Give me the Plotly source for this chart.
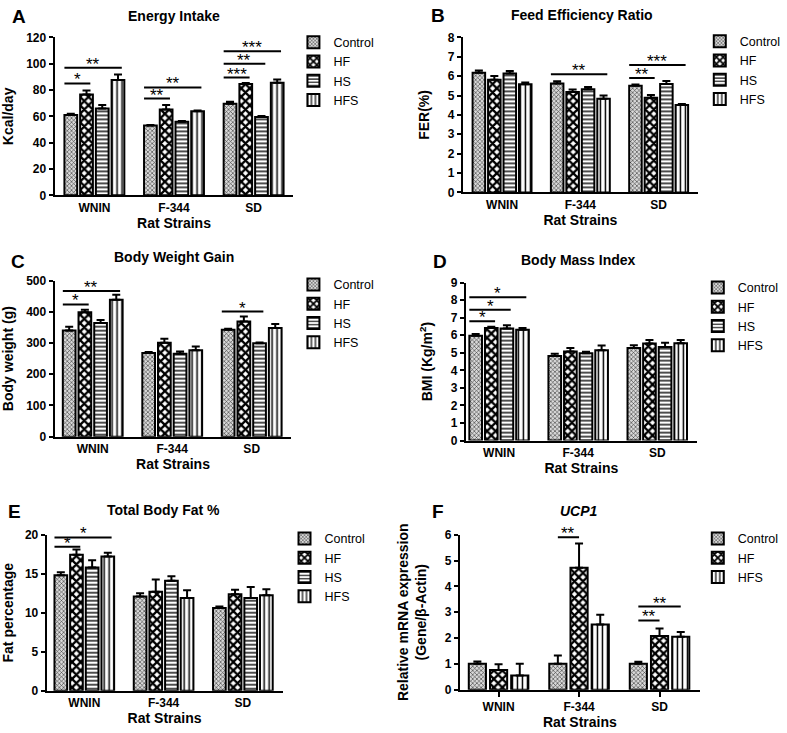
import plotly.graph_objects as go

W, H = 787, 733

strains = ["WNIN", "F-344", "SD"]
diets = ["Control", "HF", "HS", "HFS"]
ucp1_diets = ["Control", "HF", "HFS"]

# A - energy intake (kcal/day), one value per strain
energy_mean = {"Control": [61, 53, 69.5], "HF": [76.7, 65.2, 84.6],
               "HS": [66, 56, 59.5], "HFS": [87.6, 63.8, 85.6]}
energy_sem = {"Control": [1, 0.5, 1.7], "HF": [3, 3.5, 0.8],
              "HS": [2.7, 0.5, 0.7], "HFS": [4.3, 0.7, 2.5]}
# (strain, from diet, to diet, height, label)
energy_sig = [(0, 0, 1, 85, "*"), (0, 0, 3, 97, "**"), (1, 0, 1, 73.5, "**"),
              (1, 0, 3, 82, "**"), (2, 0, 1, 89.5, "***"), (2, 0, 2, 100, "**"),
              (2, 0, 3, 109.5, "***")]

# B - feed efficiency ratio (%)
fer_mean = {"Control": [6.17, 5.62, 5.5], "HF": [5.81, 5.18, 4.89],
            "HS": [6.14, 5.32, 5.6], "HFS": [5.58, 4.84, 4.51]}
fer_sem = {"Control": [0.12, 0.12, 0.07], "HF": [0.2, 0.13, 0.14],
           "HS": [0.12, 0.12, 0.15], "HFS": [0.09, 0.16, 0.05]}
fer_sig = [(1, 0, 3, 6.1, "**"), (2, 0, 1, 5.9, "**"), (2, 0, 3, 6.57, "***")]

# C - body weight gain (g)
bwg_mean = {"Control": [340, 268, 343], "HF": [399, 301, 369],
            "HS": [364, 266, 299], "HFS": [439, 277, 348]}
bwg_sem = {"Control": [12, 3, 3], "HF": [8, 13, 16],
           "HS": [10, 7, 3], "HFS": [16, 12, 13]}
bwg_sig = [(0, 0, 1, 424, "*"), (0, 0, 3, 467, "**"), (2, 0, 2, 401, "*")]

# D - body mass index
bmi_mean = {"Control": [5.97, 4.82, 5.28], "HF": [6.42, 5.08, 5.53],
            "HS": [6.39, 4.97, 5.33], "HFS": [6.31, 5.14, 5.55]}
bmi_sem = {"Control": [0.1, 0.13, 0.15], "HF": [0.06, 0.19, 0.2],
           "HS": [0.18, 0.09, 0.24], "HFS": [0.11, 0.28, 0.18]}
bmi_sig = [(0, 0, 1, 6.8, "*"), (0, 0, 2, 7.45, "*"), (0, 0, 3, 8.16, "*")]

# E - total body fat %
fat_mean = {"Control": [14.8, 12.08, 10.6], "HF": [17.43, 12.7, 12.38],
            "HS": [15.8, 14.1, 11.87], "HFS": [17.2, 11.9, 12.25]}
fat_sem = {"Control": [0.4, 0.42, 0.2], "HF": [0.67, 1.56, 0.55],
           "HS": [0.93, 0.59, 1.43], "HFS": [0.5, 0.97, 0.75]}
fat_sig = [(0, 0, 1, 18.45, "*"), (0, 0, 3, 19.65, "*")]

# F - UCP1 relative mRNA expression
ucp1_mean = {"Control": [1.0, 1.0, 1.0], "HF": [0.76, 4.72, 2.08],
             "HFS": [0.55, 2.52, 2.05]}
ucp1_sem = {"Control": [0.09, 0.32, 0.08], "HF": [0.23, 0.94, 0.29],
            "HFS": [0.45, 0.38, 0.18]}
ucp1_sig = [(1, 0, 1, 5.9, "**"), (2, 0, 1, 2.68, "**"), (2, 0, 2, 3.22, "**")]

patterns = {
    "Control": dict(shape="x", size=3, solidity=0.35, fgcolor="#333", bgcolor="#d9d9d9"),
    "HF": dict(shape="x", size=6, solidity=0.62, fgcolor="black", bgcolor="white"),
    "HS": dict(shape="-", size=4, solidity=0.35, fgcolor="black", bgcolor="white"),
    "HFS": dict(shape="|", size=5, solidity=0.3, fgcolor="black", bgcolor="white"),
}

BARGAP, GROUPGAP = 0.21, 0.19
FONT = "Arial, Liberation Sans, sans-serif"

panels = [
    dict(letter="A", title="Energy Intake", ytitle="Kcal/day", mean=energy_mean, sem=energy_sem,
         groups=diets, ymax=120, dtick=20, sig=energy_sig, xd=(48, 289), yd=(31, 192), x0=-0.5,
         start=-0.5, xticks="", leg=(304, 42), lpos=(12, 10), tpos=(168, 9)),
    dict(letter="B", title="Feed Efficiency Ratio", ytitle="FER(%)", mean=fer_mean, sem=fer_sem,
         groups=diets, ymax=8, dtick=1, sig=fer_sig, xd=(460, 697), yd=(31, 189), x0=-0.5,
         start=-0.5, xticks="", leg=(714, 41), lpos=(435, 9), tpos=(580, 8)),
    dict(letter="C", title="Body Weight Gain", ytitle="Body weight (g)", mean=bwg_mean, sem=bwg_sem,
         groups=diets, ymax=500, dtick=100, sig=bwg_sig, xd=(48, 287), yd=(279, 438), x0=-0.48,
         start=-0.5, xticks="", leg=(304, 289), lpos=(11, 259), tpos=(168, 255)),
    dict(letter="D", title="Body Mass Index", ytitle="BMI (Kg/m<sup>2</sup>)", mean=bmi_mean, sem=bmi_sem,
         groups=diets, ymax=9, dtick=1, sig=bmi_sig, xd=(463, 696), yd=(281, 442), x0=-0.42,
         start=-0.5, xticks="", leg=(712, 292), lpos=(437, 259), tpos=(577, 258)),
    dict(letter="E", title="Total Body Fat %", ytitle="Fat percentage", mean=fat_mean, sem=fat_sem,
         groups=diets, ymax=20, dtick=5, sig=fat_sig, xd=(40, 278), yd=(538, 697), x0=-0.475,
         start=-0.5, xticks="", leg=(295, 548), lpos=(8, 514), tpos=(158, 513)),
    dict(letter="F", title="<i>UCP1</i>", ytitle="Relative mRNA expression<br>(Gene/β-Actin)",
         mean=ucp1_mean, sem=ucp1_sem, groups=ucp1_diets, ymax=6, dtick=1, sig=ucp1_sig,
         xd=(457, 699), yd=(538, 696), x0=-0.48, start=0.0, xticks="outside",
         leg=(712, 548), lpos=(435, 514), tpos=(577, 514)),
]

fig = go.Figure()
shapes, annotations = [], []
layout = {}

for i, p in enumerate(panels):
    n = i + 1
    sfx = "" if n == 1 else str(n)
    xa, ya = "x" + sfx, "y" + sfx
    leg = "legend" + sfx

    for d in p["groups"]:
        pat = patterns[d]
        fig.add_trace(go.Bar(
            x=strains, y=p["mean"][d], name=d, xaxis=xa, yaxis=ya, legend=leg,
            marker=dict(color=pat["bgcolor"], pattern=dict(fillmode="replace", **pat),
                        line=dict(color="black", width=2)),
            error_y=dict(type="data", array=p["sem"][d], arrayminus=[0] * len(strains),
                         symmetric=False, color="black", thickness=2, width=4),
        ))

    layout["xaxis" + sfx] = dict(
        domain=[p["xd"][0] / W, p["xd"][1] / W], anchor=ya, range=[p["x0"], 2.5],
        showline=True, linecolor="black", linewidth=2, ticks=p["xticks"], ticklen=5,
        tickwidth=2, tickcolor="black", showgrid=False,
        tickfont=dict(family=FONT, size=12, color="black", weight="bold"),
        title=dict(text="Rat Strains", standoff=2,
                   font=dict(family=FONT, size=14, color="black", weight="bold")),
    )
    layout["yaxis" + sfx] = dict(
        domain=[1 - p["yd"][1] / H, 1 - p["yd"][0] / H], anchor=xa, range=[0, p["ymax"]],
        dtick=p["dtick"], showline=True, linecolor="black", linewidth=2, ticks="outside",
        ticklen=4, tickwidth=2, tickcolor="black", showgrid=False, zeroline=False,
        tickfont=dict(family=FONT, size=12, color="black", weight="bold"),
        title=dict(text=p["ytitle"], font=dict(family=FONT, size=14, color="black", weight="bold")),
    )
    layout[leg] = dict(
        x=(p["leg"][0] - 15) / W, y=1 - (p["leg"][1] - 21) / H, xanchor="left", yanchor="top",
        font=dict(family=FONT, size=12.5, color="black"), bgcolor="rgba(0,0,0,0)",
        tracegroupgap=0, itemclick=False,
    )

    # significance brackets, positioned from the grouped-bar geometry
    ng = len(p["groups"])
    slot = (1 - BARGAP) / ng
    bw = slot * (1 - GROUPGAP)
    for g, a, b, yv, lab in p["sig"]:
        ca = g - (1 - BARGAP) / 2 + (a + 0.5) * slot
        cb = g - (1 - BARGAP) / 2 + (b + 0.5) * slot
        xs = ca + p["start"] * bw
        xe = cb + (0.3 if p["start"] < 0 else 0) * bw
        shapes.append(dict(type="line", xref=xa, yref=ya, x0=xs, x1=xe, y0=yv, y1=yv,
                           line=dict(color="black", width=2)))
        annotations.append(dict(xref=xa, yref=ya, x=(xs + xe) / 2, y=yv, text=lab,
                                showarrow=False, yanchor="bottom", yshift=-8,
                                font=dict(family=FONT, size=17, color="black")))

    annotations.append(dict(xref="paper", yref="paper", x=p["lpos"][0] / W, y=1 - p["lpos"][1] / H,
                            text=p["letter"], showarrow=False, xanchor="center", yanchor="middle",
                            font=dict(family=FONT, size=19, color="black", weight="bold")))
    annotations.append(dict(xref="paper", yref="paper", x=p["tpos"][0] / W, y=1 - p["tpos"][1] / H,
                            text=p["title"], showarrow=False, xanchor="center", yanchor="middle",
                            font=dict(family=FONT, size=14, color="black", weight="bold")))

fig.update_layout(
    width=W, height=H, margin=dict(l=0, r=0, t=0, b=0),
    paper_bgcolor="white", plot_bgcolor="white",
    barmode="group", bargap=BARGAP, bargroupgap=GROUPGAP,
    shapes=shapes, annotations=annotations,
    **layout,
)

# drop the browser's default 8px body margin so the figure sits at the page corner
fig.write_html("out.html", config={"displayModeBar": False},
               post_script="document.body.style.margin='0';")
